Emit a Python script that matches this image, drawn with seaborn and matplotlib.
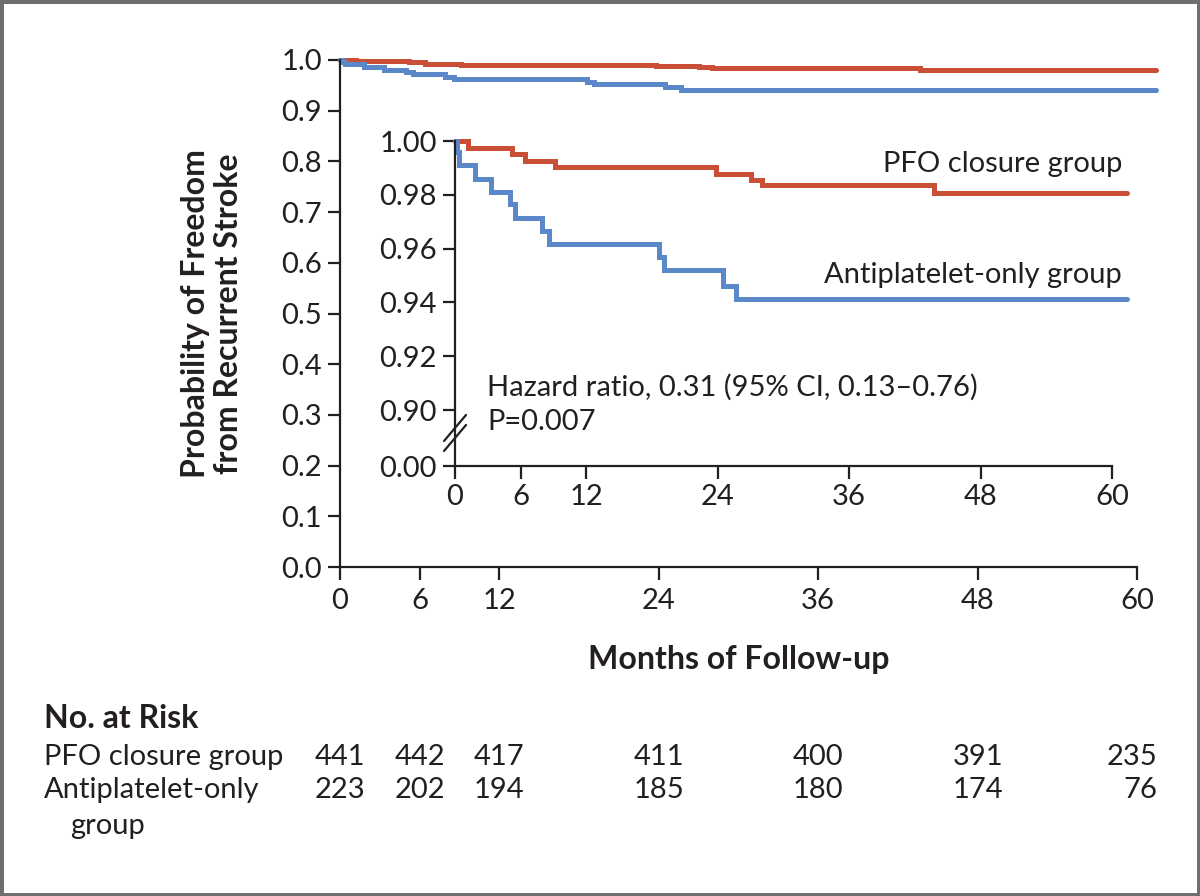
import numpy as np
import pandas as pd
import matplotlib
matplotlib.use('Agg')
import matplotlib.pyplot as plt
import matplotlib.transforms as mtransforms
import seaborn as sns

# Kaplan-Meier steps (months, survival)
pfo_t = [0, 1.2, 5.2, 6.4, 9.1, 23.8, 27.0, 28.0, 43.7, 61.4]
pfo_s = [1.0, 0.9975, 0.9953, 0.9925, 0.9903, 0.9879, 0.9856, 0.9835, 0.9805, 0.9805]

anti_t = [0, 0.15, 0.4, 1.8, 3.3, 5.0, 5.5, 7.9, 8.6, 18.6, 19.1, 24.5, 25.7, 61.4]
anti_s = [1.0, 0.996, 0.9912, 0.986, 0.9812, 0.9766, 0.9715, 0.9666, 0.9617,
          0.957, 0.952, 0.9462, 0.9412, 0.9412]

month_ticks = [0, 6, 12, 24, 36, 48, 60]
main_yticks = [0.0, 0.1, 0.2, 0.3, 0.4, 0.5, 0.6, 0.7, 0.8, 0.9, 1.0]
inset_yticks = [0.00, 0.90, 0.92, 0.94, 0.96, 0.98, 1.00]

risk_pfo = [441, 442, 417, 411, 400, 391, 235]
risk_anti = [223, 202, 194, 185, 180, 174, 76]

groups = ['PFO closure group', 'Antiplatelet-only group']
colors = {'PFO closure group': '#c94f37', 'Antiplatelet-only group': '#5b88c8'}

df = pd.concat([
    pd.DataFrame({'t': pfo_t, 's': pfo_s, 'group': groups[0]}),
    pd.DataFrame({'t': anti_t, 's': anti_s, 'group': groups[1]}),
])

ink = '#231f20'
sns.set_theme(style='ticks')
plt.rcParams['font.family'] = ['Lato', 'DejaVu Sans']
plt.rcParams['text.color'] = ink
plt.rcParams['axes.labelcolor'] = ink
plt.rcParams['xtick.color'] = ink
plt.rcParams['ytick.color'] = ink

fs = 21
fsb = 23

fig = plt.figure(figsize=(12, 8.96), dpi=100)
fig.patch.set_facecolor('white')


def style_axes(a):
    sns.despine(ax=a)
    for sp in ['left', 'bottom']:
        a.spines[sp].set_linewidth(1.6)
        a.spines[sp].set_color(ink)
    a.tick_params(direction='out', length=9, width=1.6, labelsize=fs, pad=4)
    for l in a.lines:
        l.set_clip_on(False)
        l.set_solid_joinstyle('miter')


# main plot
ax = fig.add_axes([340 / 1200, 1 - 567 / 896, 797 / 1200, 507 / 896])
sns.lineplot(data=df, x='t', y='s', hue='group', palette=colors, estimator=None,
             sort=False, drawstyle='steps-post', lw=3.6, legend=False, ax=ax)
ax.set_xlim(0, 60)
ax.set_ylim(0, 1.0)
ax.set_xticks(month_ticks)
ax.set_yticks(main_yticks)
ax.set_yticklabels([f'{v:.1f}' for v in main_yticks])
style_axes(ax)
ax.tick_params(axis='x', pad=6)
ax.set_xlabel('Months of Follow-up', fontsize=fsb, fontweight='bold', va='center')
ax.xaxis.set_label_coords(0.5, (567 - 660) / 507)
ax.set_ylabel('Probability of Freedom\nfrom Recurrent Stroke', fontsize=fsb,
              fontweight='bold', va='center', linespacing=1.15)
ax.yaxis.set_label_coords((212 - 340) / 797, 0.5)

# inset with broken y-axis
ax2 = fig.add_axes([455 / 1200, 1 - 466 / 896, 657 / 1200, 325 / 896])
ax2.set_facecolor('white')
sns.lineplot(data=df, x='t', y='s', hue='group', palette=colors, estimator=None,
             sort=False, drawstyle='steps-post', lw=3.6, legend=False, ax=ax2)

gap = 0.0208


def fwd(y):
    y = np.asarray(y, dtype=float)
    return np.where(y >= 0.9, y, 0.9 - gap * (0.9 - y) / 0.9)


def inv(y):
    y = np.asarray(y, dtype=float)
    return np.where(y >= 0.9, y, 0.9 - (0.9 - y) * 0.9 / gap)


ax2.set_yscale('function', functions=(fwd, inv))
ax2.set_xlim(0, 60)
ax2.set_ylim(0, 1.0)
ax2.set_xticks(month_ticks)
ax2.set_yticks(inset_yticks)
ax2.set_yticklabels([f'{v:.2f}' for v in inset_yticks])
ax2.minorticks_off()
ax2.set_xlabel('')
ax2.set_ylabel('')
style_axes(ax2)

# break marks on inset y-axis
dx, dy = 11 / 657, 13 / 325
for yc in [(466 - 428) / 325, (466 - 438) / 325]:
    ax2.plot([-dx, dx], [yc - dy, yc + dy], transform=ax2.transAxes, color=ink,
             lw=1.6, clip_on=False)

ax2.text((1122 - 455) / 657, (466 - 164) / 325, 'PFO closure group', transform=ax2.transAxes,
         ha='right', va='center', fontsize=fs)
ax2.text((1122 - 455) / 657, (466 - 275) / 325, 'Antiplatelet-only group', transform=ax2.transAxes,
         ha='right', va='center', fontsize=fs)
ax2.text((487 - 455) / 657, (466 - 387) / 325, 'Hazard ratio, 0.31 (95% CI, 0.13\u20130.76)',
         transform=ax2.transAxes, ha='left', va='center', fontsize=fs)
ax2.text((487 - 455) / 657, (466 - 422) / 325, 'P=0.007', transform=ax2.transAxes,
         ha='left', va='center', fontsize=fs)

# number at risk table
fig.text(44 / 1200, 1 - 718 / 896, 'No. at Risk', fontsize=fsb, fontweight='bold', va='center')
fig.text(44 / 1200, 1 - 757 / 896, 'PFO closure group', fontsize=fs, va='center')
fig.text(44 / 1200, 1 - 790 / 896, 'Antiplatelet-only', fontsize=fs, va='center')
fig.text(70 / 1200, 1 - 826 / 896, 'group', fontsize=fs, va='center')

blend = mtransforms.blended_transform_factory(ax.transData, fig.transFigure)
for row_y, vals in [(1 - 757 / 896, risk_pfo), (1 - 790 / 896, risk_anti)]:
    for i, (m, v) in enumerate(zip(month_ticks, vals)):
        if i == len(vals) - 1:
            ax.text(61.5, row_y, str(v), transform=blend, ha='right', va='center', fontsize=fs)
        else:
            ax.text(m, row_y, str(v), transform=blend, ha='center', va='center', fontsize=fs)

# grey frame
fig.patches.append(plt.Rectangle((0, 0), 1, 1, transform=fig.transFigure, fill=False,
                                 edgecolor='#6e6e6e', lw=5, zorder=10))

fig.savefig('out.png', dpi=100)
